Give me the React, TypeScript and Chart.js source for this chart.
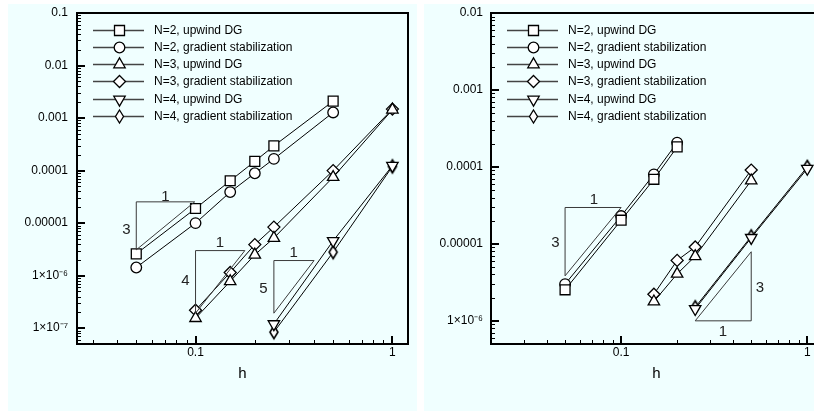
import React, { useEffect, useRef } from 'react';
import { Chart, registerables } from 'chart.js';
Chart.register(...registerables);

// ---------- Legend labels ----------
const seriesLabels = [
  'N=2, upwind DG',
  'N=2, gradient stabilization',
  'N=3, upwind DG',
  'N=3, gradient stabilization',
  'N=4, upwind DG',
  'N=4, gradient stabilization',
];
const seriesMarkers = ['square', 'circle', 'triUp', 'diamond', 'triDown', 'thinDiamond'];

// ---------- Left panel data ----------
const leftH2 = [0.05, 0.1, 0.15, 0.2, 0.25, 0.5];
const leftN2Upwind = [2.6e-6, 1.9e-5, 6.4e-5, 1.5e-4, 2.95e-4, 2.1e-3];
const leftN2Grad = [1.43e-6, 1.0e-5, 3.9e-5, 8.9e-5, 1.67e-4, 1.28e-3];
const leftH3 = [0.1, 0.15, 0.2, 0.25, 0.5, 1];
const leftN3Upwind = [1.55e-7, 7.8e-7, 2.5e-6, 5.2e-6, 7.5e-5, 1.44e-3];
const leftN3Grad = [2.2e-7, 1.15e-6, 3.9e-6, 8.4e-6, 1.0e-4, 1.48e-3];
const leftH4 = [0.25, 0.5, 1];
const leftN4Upwind = [1.2e-7, 4.6e-6, 1.24e-4];
const leftN4Grad = [8.4e-8, 2.8e-6, 1.2e-4];

const leftXTicks = [0.1, 1];
const leftXTickLabels = ['0.1', '1'];
const leftYTicks = [1e-7, 1e-6, 1e-5, 1e-4, 1e-3, 1e-2, 1e-1];
const leftYTickLabels = ['1×10⁻⁷', '1×10⁻⁶', '0.00001', '0.0001', '0.001', '0.01', '0.1'];

// slope triangles (closed polygons in data coords)
const leftSlope1X = [0.05, 0.05, 0.099, 0.05];
const leftSlope1Y = [3.1e-6, 2.54e-5, 2.54e-5, 3.1e-6];
const leftSlope2X = [0.1, 0.1, 0.178, 0.1];
const leftSlope2Y = [1.93e-7, 3.0e-6, 3.0e-6, 1.93e-7];
const leftSlope3X = [0.25, 0.25, 0.4, 0.25];
const leftSlope3Y = [1.93e-7, 1.94e-6, 1.94e-6, 1.93e-7];
const leftSlopeText = ['1', '3', '1', '4', '1', '5'];
const leftSlopeTextX = [0.0704, 0.0446, 0.133, 0.0889, 0.315, 0.221];
const leftSlopeTextY = [3.2e-5, 7.5e-6, 4.2e-6, 7.8e-7, 2.7e-6, 5.6e-7];

// ---------- Right panel data ----------
const rightH2 = [0.05, 0.1, 0.15, 0.2];
const rightN2Upwind = [2.53e-6, 2.03e-5, 6.9e-5, 1.82e-4];
const rightN2Grad = [3.0e-6, 2.3e-5, 8.0e-5, 2.07e-4];
const rightH3 = [0.15, 0.2, 0.25, 0.5];
const rightN3Upwind = [1.78e-6, 4.07e-6, 6.9e-6, 6.65e-5];
const rightN3Grad = [2.22e-6, 6.1e-6, 9.1e-6, 9.1e-5];
const rightH4 = [0.25, 0.5, 1];
const rightN4Upwind = [1.43e-6, 1.2e-5, 9.5e-5];
const rightN4Grad = [1.5e-6, 1.25e-5, 1.0e-4];

const rightXTicks = [0.1, 1];
const rightXTickLabels = ['0.1', '1'];
const rightYTicks = [1e-6, 1e-5, 1e-4, 1e-3, 1e-2];
const rightYTickLabels = ['1×10⁻⁶', '0.00001', '0.0001', '0.001', '0.01'];

const rightSlope1X = [0.05, 0.05, 0.1, 0.05];
const rightSlope1Y = [3.84e-6, 2.97e-5, 2.97e-5, 3.84e-6];
const rightSlope2X = [0.25, 0.5, 0.5, 0.25];
const rightSlope2Y = [1e-6, 1e-6, 7.9e-6, 1e-6];
const rightSlopeText = ['1', '3', '3', '1'];
const rightSlopeTextX = [0.0715, 0.0444, 0.556, 0.352];
const rightSlopeTextY = [3.7e-5, 1.04e-5, 2.66e-6, 7.1e-7];

const FONT = '"Liberation Sans", Arial, Helvetica, sans-serif';

function markerPath(g: CanvasRenderingContext2D, kind: string, x: number, y: number) {
  g.beginPath();
  switch (kind) {
    case 'square':
      g.rect(x - 5, y - 5, 10, 10);
      break;
    case 'circle':
      g.arc(x, y, 5.3, 0, Math.PI * 2);
      break;
    case 'triUp':
      g.moveTo(x, y - 6.6);
      g.lineTo(x + 5.7, y + 3.3);
      g.lineTo(x - 5.7, y + 3.3);
      g.closePath();
      break;
    case 'diamond':
      g.moveTo(x, y - 6);
      g.lineTo(x + 6, y);
      g.lineTo(x, y + 6);
      g.lineTo(x - 6, y);
      g.closePath();
      break;
    case 'triDown':
      g.moveTo(x - 5.7, y - 3.3);
      g.lineTo(x + 5.7, y - 3.3);
      g.lineTo(x, y + 6.6);
      g.closePath();
      break;
    case 'thinDiamond':
      g.moveTo(x, y - 6.5);
      g.lineTo(x + 4, y);
      g.lineTo(x, y + 6.5);
      g.lineTo(x - 4, y);
      g.closePath();
      break;
  }
}

function drawMarker(g: CanvasRenderingContext2D, kind: string, x: number, y: number) {
  g.save();
  g.fillStyle = '#fff';
  g.strokeStyle = '#000';
  g.lineWidth = 1.3;
  markerPath(g, kind, x, y);
  g.fill();
  g.stroke();
  g.restore();
}

function makeThinDiamondImage(): HTMLCanvasElement {
  const c = document.createElement('canvas');
  c.width = 18;
  c.height = 18;
  const g = c.getContext('2d')!;
  g.fillStyle = '#fff';
  g.strokeStyle = '#000';
  g.lineWidth = 1.6;
  markerPath(g, 'thinDiamond', 9, 9);
  g.fill();
  g.stroke();
  return c;
}

type PanelProps = {
  left: number;
  padRight: number;
  yAxisWidth: number;
  xMin: number;
  xMax: number;
  yMin: number;
  yMax: number;
  xTicks: number[];
  xTickLabels: string[];
  yTicks: number[];
  yTickLabels: string[];
  yLabelPad: number;
  series: { x: number[]; y: number[] }[];
  slopes: { x: number[]; y: number[] }[];
  slopeText: string[];
  slopeTextX: number[];
  slopeTextY: number[];
};

function Panel(p: PanelProps) {
  const ref = useRef<HTMLCanvasElement>(null);
  useEffect(() => {
    const thin = makeThinDiamondImage();
    const styleFor: any[] = [
      { pointStyle: 'rect', pointRadius: 7 },
      { pointStyle: 'circle', pointRadius: 5.3 },
      { pointStyle: 'triangle', pointRadius: 6.6 },
      { pointStyle: 'rectRot', pointRadius: 6 },
      { pointStyle: 'triangle', pointRadius: 6.6, pointRotation: 180 },
      { pointStyle: thin, pointRadius: 6 },
    ];
    const datasets: any[] = [];
    p.slopes.forEach((s) => {
      datasets.push({
        data: s.x.map((x, i) => ({ x, y: s.y[i] })),
        showLine: true,
        borderColor: '#3a3a3a',
        borderWidth: 1,
        pointRadius: 0,
        fill: false,
      });
    });
    p.series.forEach((s, k) => {
      datasets.push({
        label: seriesLabels[k],
        data: s.x.map((x, i) => ({ x, y: s.y[i] })),
        showLine: true,
        borderColor: '#000',
        borderWidth: 1,
        pointBackgroundColor: '#fff',
        pointBorderColor: '#000',
        pointBorderWidth: 1.3,
        fill: false,
        ...styleFor[k],
      });
    });

    const framePlugin = {
      id: 'frameTicks',
      afterDatasetsDraw(chart: any) {
        const { ctx, chartArea: a, scales } = chart;
        ctx.save();
        ctx.strokeStyle = '#000';
        const drawTicks = (scale: any, isX: boolean) => {
          const lo = Math.floor(Math.log10(scale.min));
          const hi = Math.ceil(Math.log10(scale.max));
          for (let d = lo; d <= hi; d++) {
            for (let k = 1; k <= 9; k++) {
              const v = k * Math.pow(10, d);
              if (v < scale.min * 0.999 || v > scale.max * 1.001) continue;
              const px = Math.round(scale.getPixelForValue(v));
              const major = k === 1;
              const len = major ? 8 : 4;
              ctx.lineWidth = major ? 2 : 1;
              ctx.beginPath();
              if (isX) {
                const xx = major ? px : px + 0.5;
                ctx.moveTo(xx, a.bottom);
                ctx.lineTo(xx, a.bottom - len);
              } else {
                const yy = major ? px : px + 0.5;
                ctx.moveTo(a.left, yy);
                ctx.lineTo(a.left + len, yy);
              }
              ctx.stroke();
            }
          }
        };
        drawTicks(scales.x, true);
        drawTicks(scales.y, false);
        ctx.lineWidth = 2;
        ctx.strokeRect(a.left, a.top, a.right - a.left, a.bottom - a.top);
        ctx.restore();
      },
    };

    const legendPlugin = {
      id: 'insideLegend',
      afterDraw(chart: any) {
        const { ctx, chartArea: a } = chart;
        ctx.save();
        seriesLabels.forEach((lab, i) => {
          const y = Math.round(a.top + 16.8 + i * 17.2) + 0.5;
          ctx.strokeStyle = '#444';
          ctx.lineWidth = 1.4;
          ctx.beginPath();
          ctx.moveTo(a.left + 16, y);
          ctx.lineTo(a.left + 67, y);
          ctx.stroke();
          drawMarker(ctx, seriesMarkers[i], Math.round(a.left + 42) + 0.5, y);
          ctx.fillStyle = '#000';
          ctx.font = `12px ${FONT}`;
          ctx.textAlign = 'left';
          ctx.textBaseline = 'middle';
          ctx.fillText(lab, a.left + 77, y);
        });
        ctx.restore();
      },
    };

    const slopeTextPlugin = {
      id: 'slopeText',
      afterDatasetsDraw(chart: any) {
        const { ctx, scales } = chart;
        ctx.save();
        ctx.fillStyle = '#222';
        ctx.font = `15px ${FONT}`;
        ctx.textAlign = 'center';
        ctx.textBaseline = 'middle';
        p.slopeText.forEach((t, i) => {
          ctx.fillText(t, scales.x.getPixelForValue(p.slopeTextX[i]), scales.y.getPixelForValue(p.slopeTextY[i]));
        });
        ctx.restore();
      },
    };

    const chart = new Chart(ref.current!, {
      type: 'scatter',
      data: { datasets },
      options: {
        animation: false,
        responsive: false,
        maintainAspectRatio: false,
        layout: { padding: { top: 9, right: p.padRight, left: 0, bottom: 0 } },
        elements: { line: { tension: 0 } },
        plugins: { legend: { display: false }, tooltip: { enabled: false } },
        scales: {
          x: {
            type: 'logarithmic',
            min: p.xMin,
            max: p.xMax,
            grid: { display: false, drawTicks: false },
            border: { display: false },
            ticks: {
              padding: 1,
              color: '#000',
              autoSkip: false,
              maxRotation: 0,
              font: { family: FONT, size: 12 },
              callback: (_v: any, i: number) => p.xTickLabels[i],
            },
            afterBuildTicks: (s: any) => {
              s.ticks = p.xTicks.map((v) => ({ value: v }));
            },
            afterFit: (s: any) => {
              s.height = 67;
              s.paddingLeft = 0;
              s.paddingRight = 0;
            },
            title: {
              display: true,
              text: 'h',
              color: '#000',
              font: { family: FONT, size: 15 },
              padding: { top: 0, bottom: 28 },
            },
          },
          y: {
            type: 'logarithmic',
            min: p.yMin,
            max: p.yMax,
            grid: { display: false, drawTicks: false },
            border: { display: false },
            ticks: {
              padding: p.yLabelPad,
              color: '#000',
              autoSkip: false,
              font: { family: FONT, size: 12 },
              callback: (_v: any, i: number) => p.yTickLabels[i],
            },
            afterBuildTicks: (s: any) => {
              s.ticks = p.yTicks.map((v) => ({ value: v }));
            },
            afterFit: (s: any) => {
              s.width = p.yAxisWidth;
              s.paddingTop = 0;
              s.paddingBottom = 0;
            },
          },
        },
      } as any,
      plugins: [framePlugin, slopeTextPlugin, legendPlugin],
    });
    return () => chart.destroy();
  }, []);

  return (
    <div
      style={{
        position: 'absolute',
        left: p.left,
        top: 4,
        width: 409,
        height: 407,
        background: '#f0ffff',
      }}
    >
      <canvas ref={ref} width={409} height={407} style={{ display: 'block', width: 409, height: 407 }} />
    </div>
  );
}

export default function App() {
  return (
    <div
      style={{
        position: 'fixed',
        left: 0,
        top: 0,
        width: 814,
        height: 411,
        overflow: 'hidden',
        background: '#fff',
      }}
    >
      <Panel
        left={8}
        padRight={9}
        yAxisWidth={69}
        xMin={0.025}
        xMax={1.2}
        yMin={5e-8}
        yMax={0.1}
        xTicks={leftXTicks}
        xTickLabels={leftXTickLabels}
        yTicks={leftYTicks}
        yTickLabels={leftYTickLabels}
        yLabelPad={9}
        series={[
          { x: leftH2, y: leftN2Upwind },
          { x: leftH2, y: leftN2Grad },
          { x: leftH3, y: leftN3Upwind },
          { x: leftH3, y: leftN3Grad },
          { x: leftH4, y: leftN4Upwind },
          { x: leftH4, y: leftN4Grad },
        ]}
        slopes={[
          { x: leftSlope1X, y: leftSlope1Y },
          { x: leftSlope2X, y: leftSlope2Y },
          { x: leftSlope3X, y: leftSlope3Y },
        ]}
        slopeText={leftSlopeText}
        slopeTextX={leftSlopeTextX}
        slopeTextY={leftSlopeTextY}
      />
      <Panel
        left={424}
        padRight={11}
        yAxisWidth={67}
        xMin={0.02}
        xMax={1.2}
        yMin={5e-7}
        yMax={0.01}
        xTicks={rightXTicks}
        xTickLabels={rightXTickLabels}
        yTicks={rightYTicks}
        yTickLabels={rightYTickLabels}
        yLabelPad={8}
        series={[
          { x: rightH2, y: rightN2Upwind },
          { x: rightH2, y: rightN2Grad },
          { x: rightH3, y: rightN3Upwind },
          { x: rightH3, y: rightN3Grad },
          { x: rightH4, y: rightN4Upwind },
          { x: rightH4, y: rightN4Grad },
        ]}
        slopes={[
          { x: rightSlope1X, y: rightSlope1Y },
          { x: rightSlope2X, y: rightSlope2Y },
        ]}
        slopeText={rightSlopeText}
        slopeTextX={rightSlopeTextX}
        slopeTextY={rightSlopeTextY}
      />
    </div>
  );
}
